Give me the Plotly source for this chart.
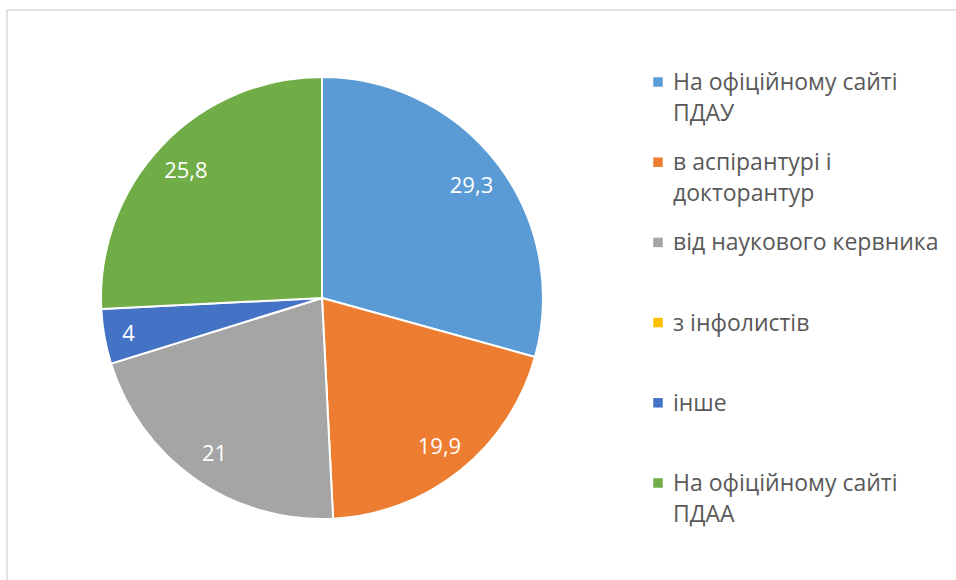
import plotly.graph_objects as go

W, H = 956, 580

categories = ["На офіційному сайті ПДАУ", "в аспірантурі і докторантур",
              "від наукового кервника", "з інфолистів", "інше",
              "На офіційному сайті ПДАА"]
legend_lines = [["На офіційному сайті", "ПДАУ"], ["в аспірантурі і", "докторантур"],
                ["від наукового кервника"], ["з інфолистів"], ["інше"],
                ["На офіційному сайті", "ПДАА"]]
values = [29.3, 19.9, 21, 0, 4, 25.8]
colors = ["#5B9BD5", "#ED7D31", "#A5A5A5", "#FFC000", "#4472C4", "#70AD47"]

labels_txt = [("" if v == 0 else f"{v:g}".replace(".", ",")) for v in values]

FONT = "Open Sans"

# pie geometry (pixels)
cx, cy, R = 322, 298, 221
domain = dict(x=[(cx - R) / W, (cx + R) / W], y=[1 - (cy + R) / H, 1 - (cy - R) / H])

fig = go.Figure()
# the slices
fig.add_trace(go.Pie(
    labels=categories, values=values,
    textinfo="none",
    sort=False, direction="clockwise", rotation=0,
    marker=dict(colors=colors, line=dict(color="white", width=2)),
    domain=domain, showlegend=False, hoverinfo="label+value",
))
# transparent ring carrying the data labels near the outer edge
fig.add_trace(go.Pie(
    labels=categories, values=values, text=labels_txt, hole=0.7,
    textinfo="text", textposition="inside", insidetextorientation="horizontal",
    sort=False, direction="clockwise", rotation=0,
    marker=dict(colors=["rgba(0,0,0,0)"] * len(values), line=dict(width=0)),
    textfont=dict(color="white", size=22, family=FONT),
    domain=domain, showlegend=False, hoverinfo="skip",
))

shapes = [dict(type="rect", xref="paper", yref="paper",
               x0=7 / W, x1=1.02, y0=-0.02, y1=1 - 10 / H,
               line=dict(color="#D9D9D9", width=1.5), fillcolor="rgba(0,0,0,0)")]
annotations = []
item_y0, item_step, line_step = 81, 80.2, 31
sq_x, sq = 658, 9.5
txt_x = 671
for i, (lines, col) in enumerate(zip(legend_lines, colors)):
    yc = item_y0 + i * item_step
    shapes.append(dict(type="rect", xref="paper", yref="paper",
                       x0=(sq_x - sq / 2) / W, x1=(sq_x + sq / 2) / W,
                       y0=1 - (yc + 1 + sq / 2) / H, y1=1 - (yc + 1 - sq / 2) / H,
                       fillcolor=col, line=dict(width=0)))
    for j, ln in enumerate(lines):
        annotations.append(dict(xref="paper", yref="paper", x=txt_x / W,
                                y=1 - (yc + j * line_step) / H,
                                xanchor="left", yanchor="middle", showarrow=False,
                                text=ln, font=dict(size=23, color="#595959", family=FONT)))

fig.update_layout(width=W, height=H, margin=dict(l=0, r=0, t=0, b=0),
                  paper_bgcolor="white", plot_bgcolor="white",
                  shapes=shapes, annotations=annotations,
                  font=dict(family=FONT))

fig.write_html("out.html", config={"displayModeBar": False},
               post_script="document.body.style.margin='0';")
